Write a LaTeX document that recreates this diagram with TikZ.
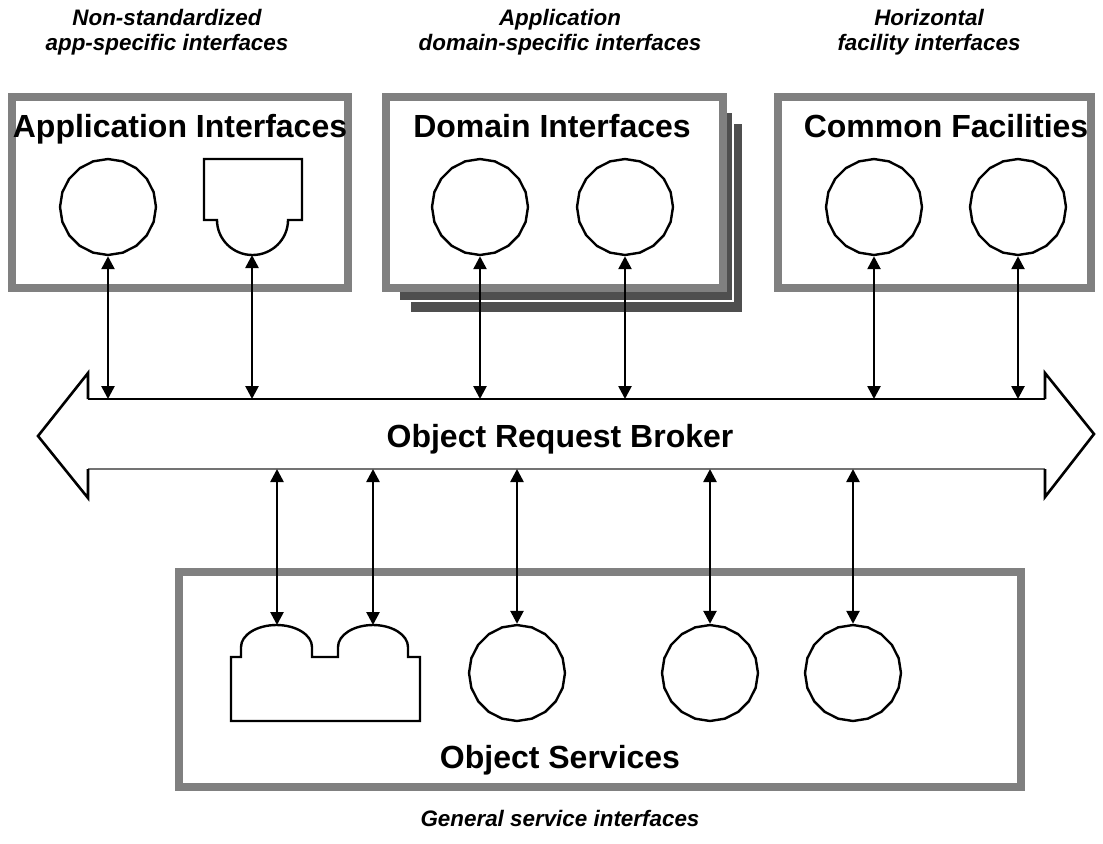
\documentclass[tikz,border=0pt]{standalone}
\usepackage{fontspec}
\setmainfont{Liberation Sans}
\usetikzlibrary{arrows.meta,shapes.geometric}

\tikzset{
	port/.style={draw, line width=1.2pt, fill=white, regular polygon, regular polygon sides=20, shape border rotate=9, minimum size=48pt, inner sep=0pt},
	frame/.style={line width=4pt, color=black!50, fill=white},
	shadow/.style={fill=black!69, draw=white, line width=0.8pt},
	plug/.style={line width=1.2pt, fill=white},
	link/.style={line width=1.3pt, {Triangle[width=6.5pt,length=6.5pt]}-{Triangle[width=6.5pt,length=6.5pt]}},
	title/.style={font=\bfseries\fontsize{16}{19}\selectfont, anchor=base},
	note/.style={font=\bfseries\itshape\fontsize{11.2}{12.3}\selectfont, align=center}
}

\begin{document}
\begin{tikzpicture}[x=0.5pt, y=-0.5pt]
			%%%%% START %%%%%
			\useasboundingbox (0, 0) rectangle (1103, 843);
			
			\node[note] (n1) at (167, 32) {Non-standardized\\app-specific interfaces};
			\node[note] (n2) at (560, 32) {Application\\domain-specific interfaces};
			\node[note] (n3) at (929, 32) {Horizontal\\facility interfaces};
			
			% application interfaces
			\draw[frame] (12, 97) rectangle (348, 288);
			\node[title] (t1) at (180, 137) {Application Interfaces};
			\node[port] (ai1) at (108, 207) {};
			\draw[plug] (204, 159) -- (302, 159) -- (302, 220) -- (288, 220)
				arc[start angle=0, end angle=180, x radius=35.5, y radius=35] -- (204, 220) -- cycle;
			\coordinate (ai2) at (252, 255);
			
			% domain interfaces
			\draw[shadow] (410, 123) rectangle (743, 313);
			\draw[shadow] (399, 112) rectangle (733, 301);
			\draw[frame] (386, 97) rectangle (723, 288);
			\node[title] (t2) at (552, 137) {Domain Interfaces};
			\node[port] (di1) at (480, 207) {};
			\node[port] (di2) at (625, 207) {};
			
			% common facilities
			\draw[frame] (778, 97) rectangle (1091, 288);
			\node[title] (t3) at (946, 137) {Common Facilities};
			\node[port] (cf1) at (874, 207) {};
			\node[port] (cf2) at (1018, 207) {};
			
			% object request broker
			\coordinate (orbt) at (0, 399);
			\coordinate (orbb) at (0, 469);
			\draw[line width=0.7pt] (88, 399) -- (1045, 399);
			\draw[line width=1.1pt, color=black!55] (88, 469) -- (1045, 469);
			\draw[line width=1.3pt] (88, 399) -- (88, 373) -- (38, 436) -- (88, 498) -- (88, 469);
			\draw[line width=1.3pt] (1045, 399) -- (1045, 373) -- (1094, 434) -- (1045, 497) -- (1045, 469);
			\node[title] (orb) at (560, 447) {Object Request Broker};
			
			% object services
			\draw[frame] (179, 572) rectangle (1021, 787);
			\draw[plug] (231, 657) -- (241, 657) -- (241, 647)
				arc[start angle=180, end angle=360, x radius=35.5, y radius=22] -- (312, 657) -- (338, 657) -- (338, 647)
				arc[start angle=180, end angle=360, x radius=35, y radius=22] -- (408, 657) -- (420, 657) -- (420, 721) -- (231, 721) -- cycle;
			\coordinate (os1) at (277, 625);
			\coordinate (os2) at (373, 625);
			\node[port] (os3) at (517, 673) {};
			\node[port] (os4) at (710, 673) {};
			\node[port] (os5) at (853, 673) {};
			\node[title] (t4) at (560, 768) {Object Services};
			
			\node[note] (n4) at (560, 818) {General service interfaces};
			
			% links
			\foreach \p in {ai1, di1, di2, cf1, cf2}
				\draw[link] (\p.south) -- (\p.south |- orbt);
			\draw[link] (ai2) -- (ai2 |- orbt);
			\draw[link] (os1 |- orbb) -- (os1);
			\draw[link] (os2 |- orbb) -- (os2);
			\foreach \p in {os3, os4, os5}
				\draw[link] (\p.north |- orbb) -- (\p.north);
			
			%%%%% END %%%%%
\end{tikzpicture}
\end{document}
